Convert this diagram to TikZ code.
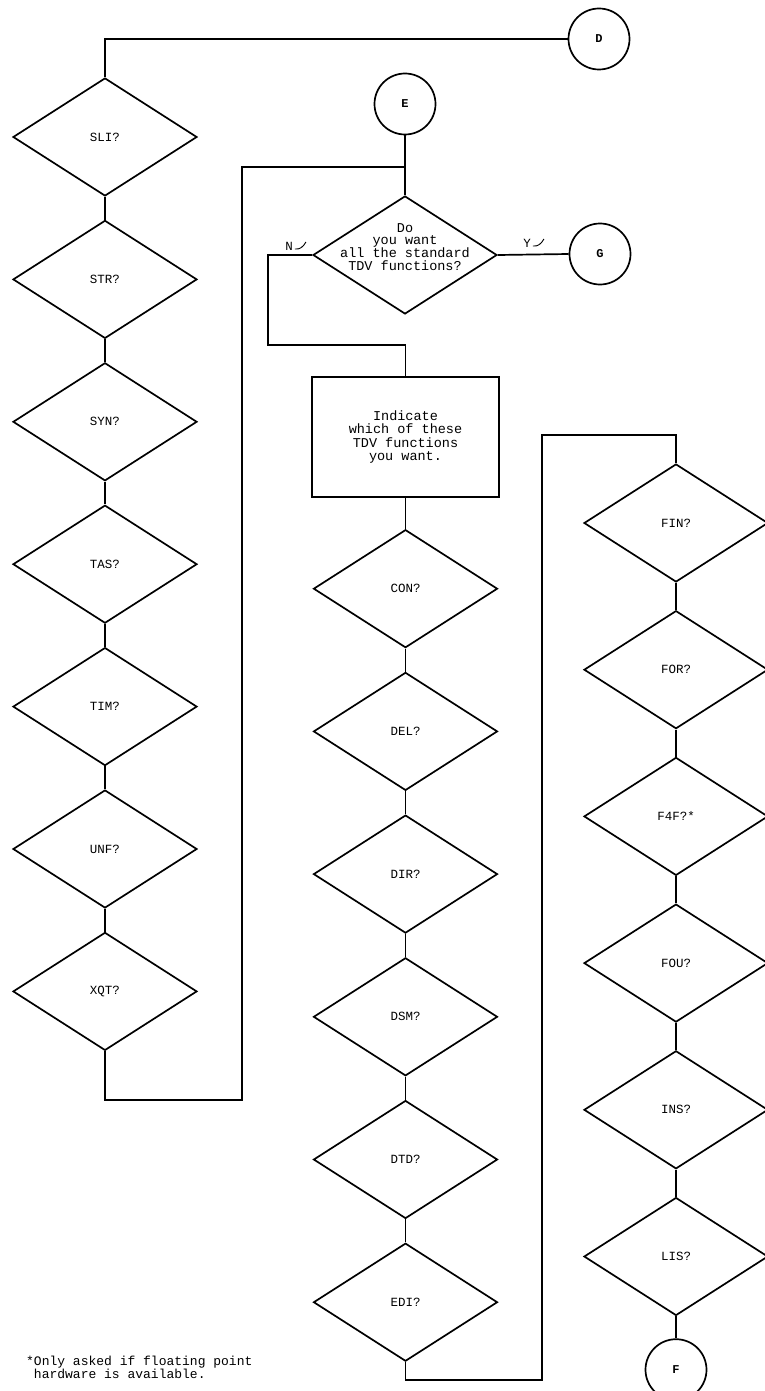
\documentclass[tikz,border=0pt]{standalone}
\usepackage{fontspec}
\setmonofont{Liberation Mono}
\usetikzlibrary{shapes.geometric, positioning, calc}

\begin{document}
\begin{tikzpicture}[
    x = 1pt, y = -1pt, % one unit per pixel of the scan, y down
    line width = 1.7pt,
    font = \ttfamily\fontsize{12.5}{14}\selectfont,
    ask/.style={diamond, draw, minimum width=184pt, minimum height=118pt, inner sep=0pt},
    job/.style={rectangle, draw, minimum width=187pt, minimum height=120pt, align=center,
        font=\ttfamily\fontsize{13.5}{13.5}\selectfont},
    link/.style={circle, draw, minimum size=61pt, inner sep=0pt, font=\ttfamily\bfseries\fontsize{12}{12}\selectfont},
    hook/.style={line width=0.9pt}
]
\useasboundingbox (0,0) rectangle (764,1391);

% --- LEFT COLUMN: SLI ... XQT ---
\node[link] (D) at (599,39) {D};
\node[ask] (sli) at (105,137) {SLI?};
\node[ask, below=22.7pt of sli] (str) {STR?};
\node[ask, below=22.7pt of str] (syn) {SYN?};
\node[ask, below=22.7pt of syn] (tas) {TAS?};
\node[ask, below=22.7pt of tas] (tim) {TIM?};
\node[ask, below=22.7pt of tim] (unf) {UNF?};
\node[ask, below=22.7pt of unf] (xqt) {XQT?};

% --- MIDDLE COLUMN: question, box, CON ... EDI ---
\node[link] (E) at (405,104) {E};
\node[ask, label={[align=center, yshift=8pt, font=\ttfamily\fontsize{13.5}{12.8}\selectfont]center:Do\\you want\\all the standard\\TDV functions?}] (want) at (405,255) {};
\node[link] (G) at (600,254) {G};
\node[job] (which) at (405.5,437) {Indicate\\which of these\\TDV functions\\you want.};
\node[ask, below=31pt of which] (con) {CON?};
\node[ask, below=23pt of con] (del) {DEL?};
\node[ask, below=23pt of del] (dir) {DIR?};
\node[ask, below=23pt of dir] (dsm) {DSM?};
\node[ask, below=23pt of dsm] (dtd) {DTD?};
\node[ask, below=23pt of dtd] (edi) {EDI?};

% --- RIGHT COLUMN: FIN ... LIS ---
\node[ask] (fin) at (676,523) {FIN?};
\node[ask, below=27pt of fin] (for) {FOR?};
\node[ask, below=27pt of for] (f4f) {F4F?*};
\node[ask, below=27pt of f4f] (fou) {FOU?};
\node[ask, below=27pt of fou] (ins) {INS?};
\node[ask, below=27pt of ins] (lis) {LIS?};
\node[link, below=22pt of lis] (F) {F};

% answer labels
\node (nlab) at (289,246) {N};
\node (ylab) at (527,243) {Y};
\draw[hook] ([shift={(-2,3)}]nlab.east) to[out=-10, in=-120] ++(11,-7);
\draw[hook] ([shift={(-2,3)}]ylab.east) to[out=-10, in=-120] ++(11,-7);

% footnote
\node[anchor=west, align=left, font=\ttfamily\fontsize{13}{13}\selectfont] (note) at (22,1367)
    {*Only asked if floating point\\\phantom{*}hardware is available.};

% turning points
\coordinate (join) at (405,167);
\coordinate (lloop) at (242,1100);
\coordinate (nturn) at (268,345);
\coordinate (mloop) at (542,1380);
\coordinate (rtop) at (542,435);

% connectors
\draw (D.west) -| (sli.north);
\draw (sli.south) -- (str.north);
\draw (str.south) -- (syn.north);
\draw (syn.south) -- (tas.north);
\draw (tas.south) -- (tim.north);
\draw (tim.south) -- (unf.north);
\draw (unf.south) -- (xqt.north);
\draw (xqt.south) |- (lloop) |- (join);

\draw (E.south) -- (want.north);
\draw (want.east) -- (G.west);
\draw (want.west) -| (nturn) -| (which.north);
\draw (which.south) -- (con.north);
\draw (con.south) -- (del.north);
\draw (del.south) -- (dir.north);
\draw (dir.south) -- (dsm.north);
\draw (dsm.south) -- (dtd.north);
\draw (dtd.south) -- (edi.north);
\draw (edi.south) |- (mloop) -- (rtop) -| (fin.north);

\draw (fin.south) -- (for.north);
\draw (for.south) -- (f4f.north);
\draw (f4f.south) -- (fou.north);
\draw (fou.south) -- (ins.north);
\draw (ins.south) -- (lis.north);
\draw (lis.south) -- (F.north);

\end{tikzpicture}
\end{document}
